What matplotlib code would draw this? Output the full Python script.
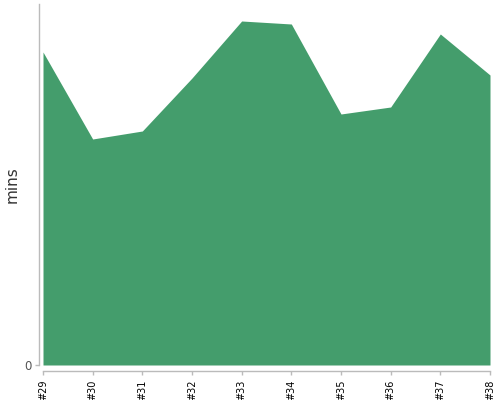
import matplotlib
matplotlib.use("Agg")
import matplotlib.pyplot as plt

builds = ["#29", "#30", "#31", "#32", "#33", "#34", "#35", "#36", "#37", "#38"]
mins = [31.3, 22.6, 23.4, 28.7, 34.4, 34.1, 25.1, 25.8, 33.1, 29.0]

fig = plt.figure(figsize=(5, 4), dpi=100)
ax = fig.add_axes([43 / 500, 35 / 400, 447 / 500, 361 / 400])

x = list(range(len(builds)))
ax.fill_between(x, mins, 0, color="#449d6c", linewidth=0)

ax.set_xlim(0, len(builds) - 1)
ax.set_ylim(0, 36.1)
ax.set_xticks(x)
ax.set_xticklabels(builds)
ax.set_yticks([0])
ax.set_yticklabels(["0"])

for s in ["top", "right"]:
    ax.spines[s].set_visible(False)
ax.spines["left"].set_position(("outward", 3))
ax.spines["bottom"].set_position(("outward", 4))
for s in ["left", "bottom"]:
    ax.spines[s].set_color("#bbbbbb")
    ax.spines[s].set_linewidth(1)
ax.tick_params(axis="both", color="#bbbbbb", length=3, width=1)
ax.tick_params(axis="x", labelrotation=90, labelsize=7, labelcolor="#000000", pad=3.5)
ax.tick_params(axis="y", labelsize=8.5, labelcolor="#555555", pad=2)

ax.set_ylabel("mins", fontsize=11, color="#333333")
ax.yaxis.set_label_coords(-0.052, 0.5)

fig.savefig("out.png", dpi=100)
